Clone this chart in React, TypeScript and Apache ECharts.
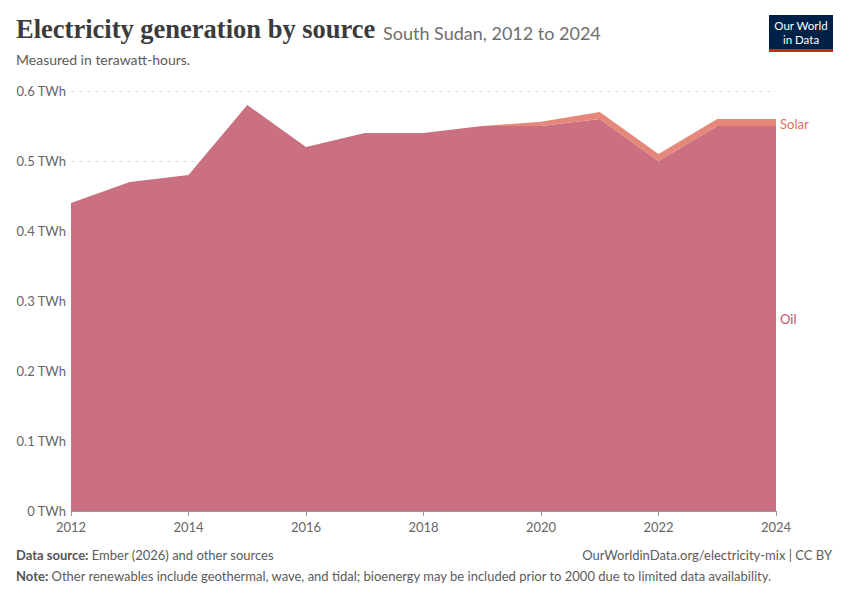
import React, { useEffect, useRef } from "react";
import * as echarts from "echarts";

const years = [2012, 2013, 2014, 2015, 2016, 2017, 2018, 2019, 2020, 2021, 2022, 2023, 2024];
const oil = [0.44, 0.47, 0.48, 0.58, 0.52, 0.54, 0.54, 0.55, 0.55, 0.56, 0.5, 0.55, 0.55];
const solar = [0, 0, 0, 0, 0, 0, 0, 0, 0.006, 0.01, 0.01, 0.01, 0.01];
const yTicks = [0, 0.1, 0.2, 0.3, 0.4, 0.5, 0.6];

const OIL_COLOR = "#ca7080";
const SOLAR_COLOR = "#e5887a";
const FONT = "Lato, 'Noto Sans', sans-serif";

export default function App() {
  const ref = useRef<HTMLDivElement>(null);
  useEffect(() => {
    document.body.style.margin = "0";
    const chart = echarts.init(ref.current!, null, { renderer: "svg" });
    const option: any = {
      animation: false,
      grid: { left: 71, right: 74, top: 91, bottom: 89 },
      xAxis: {
        type: "category",
        boundaryGap: false,
        data: years.map(String),
        axisLine: { show: true, lineStyle: { color: "#999" } },
        axisTick: { show: true, length: 5, interval: 1, lineStyle: { color: "#999" } },
        splitLine: { show: false },
        axisLabel: {
          color: "#666",
          fontFamily: FONT,
          fontSize: 13,
          margin: 9,
          interval: 1,
        },
      },
      yAxis: {
        type: "value",
        min: 0,
        max: 0.6,
        interval: 0.1,
        axisLine: { show: false },
        axisTick: { show: false },
        splitLine: { show: true, lineStyle: { color: "#dddddd", type: [4, 4] } },
        axisLabel: {
          color: "#666",
          fontFamily: FONT,
          fontSize: 13,
          margin: 5,
          formatter: (v: number) => {
            const t = yTicks.find((x) => Math.abs(x - v) < 1e-6);
            return (t === 0 ? "0" : String(Math.round(v * 10) / 10)) + " TWh";
          },
        },
      },
      series: [
        {
          name: "Oil",
          type: "line",
          stack: "total",
          symbol: "none",
          lineStyle: { width: 0 },
          areaStyle: { color: OIL_COLOR, opacity: 1 },
          data: oil,
        },
        {
          name: "Solar",
          type: "line",
          stack: "total",
          symbol: "none",
          lineStyle: { width: 0 },
          areaStyle: { color: SOLAR_COLOR, opacity: 1 },
          data: solar,
        },
      ],
      graphic: [
        {
          type: "text",
          left: 16,
          top: 15,
          style: {
            text: "Electricity generation by source",
            font: "bold 26.5px 'Liberation Serif', 'DejaVu Serif', serif",
            fill: "#3b3b3b",
          },
        },
        {
          type: "text",
          left: 383,
          top: 24,
          style: {
            text: "South Sudan, 2012 to 2024",
            font: `18px ${FONT}`,
            fill: "#6e6e6e",
          },
        },
        {
          type: "text",
          left: 16,
          top: 52,
          style: {
            text: "Measured in terawatt-hours.",
            font: `14px ${FONT}`,
            fill: "#5b5b5b",
          },
        },
        {
          type: "group",
          left: 769,
          top: 15,
          children: [
            { type: "rect", shape: { x: 0, y: 0, width: 64, height: 37 }, style: { fill: "#002147" } },
            { type: "rect", shape: { x: 0, y: 34, width: 64, height: 3 }, style: { fill: "#ce261e" } },
            {
              type: "text",
              x: 32,
              y: 10,
              style: {
                text: "Our World",
                font: `11.5px ${FONT}`,
                fill: "#fff",
                align: "center",
                verticalAlign: "middle",
              },
            },
            {
              type: "text",
              x: 32,
              y: 24,
              style: {
                text: "in Data",
                font: `11.5px ${FONT}`,
                fill: "#fff",
                align: "center",
                verticalAlign: "middle",
              },
            },
          ],
        },
        {
          type: "text",
          left: 16,
          top: 548,
          style: {
            text: "{b|Data source:} Ember (2026) and other sources",
            font: `13px ${FONT}`,
            fill: "#5b5b5b",
            rich: { b: { fontWeight: "bold", fontFamily: FONT, fontSize: 13, fill: "#555" } },
          },
        },
        {
          type: "text",
          right: 18,
          top: 548,
          style: {
            text: "OurWorldinData.org/electricity-mix | CC BY",
            font: `13px ${FONT}`,
            fill: "#5b5b5b",
          },
        },
        {
          type: "text",
          left: 16,
          top: 569,
          style: {
            text:
              "{b|Note:} Other renewables include geothermal, wave, and tidal; bioenergy may be included prior to 2000 due to limited data availability.",
            font: `13px ${FONT}`,
            fill: "#5b5b5b",
            rich: { b: { fontWeight: "bold", fontFamily: FONT, fontSize: 13, fill: "#555" } },
          },
        },
      ],
    };
    chart.setOption(option);

    const last = years.length - 1;
    const oilMid = chart.convertToPixel({ gridIndex: 0 }, [last, oil[last] / 2]);
    const solarMid = chart.convertToPixel({ gridIndex: 0 }, [last, oil[last] + solar[last] / 2]);
    chart.setOption({
      graphic: [
        ...option.graphic,
        {
          type: "text",
          x: oilMid[0] + 4,
          y: oilMid[1],
          style: { text: "Oil", font: `13px ${FONT}`, fill: "#c4526a", verticalAlign: "middle" },
        },
        {
          type: "text",
          x: solarMid[0] + 4,
          y: solarMid[1] + 1,
          style: { text: "Solar", font: `13px ${FONT}`, fill: "#e07060", verticalAlign: "middle" },
        },
      ],
    });
    return () => chart.dispose();
  }, []);
  return <div ref={ref} style={{ width: 850, height: 600 }} />;
}
